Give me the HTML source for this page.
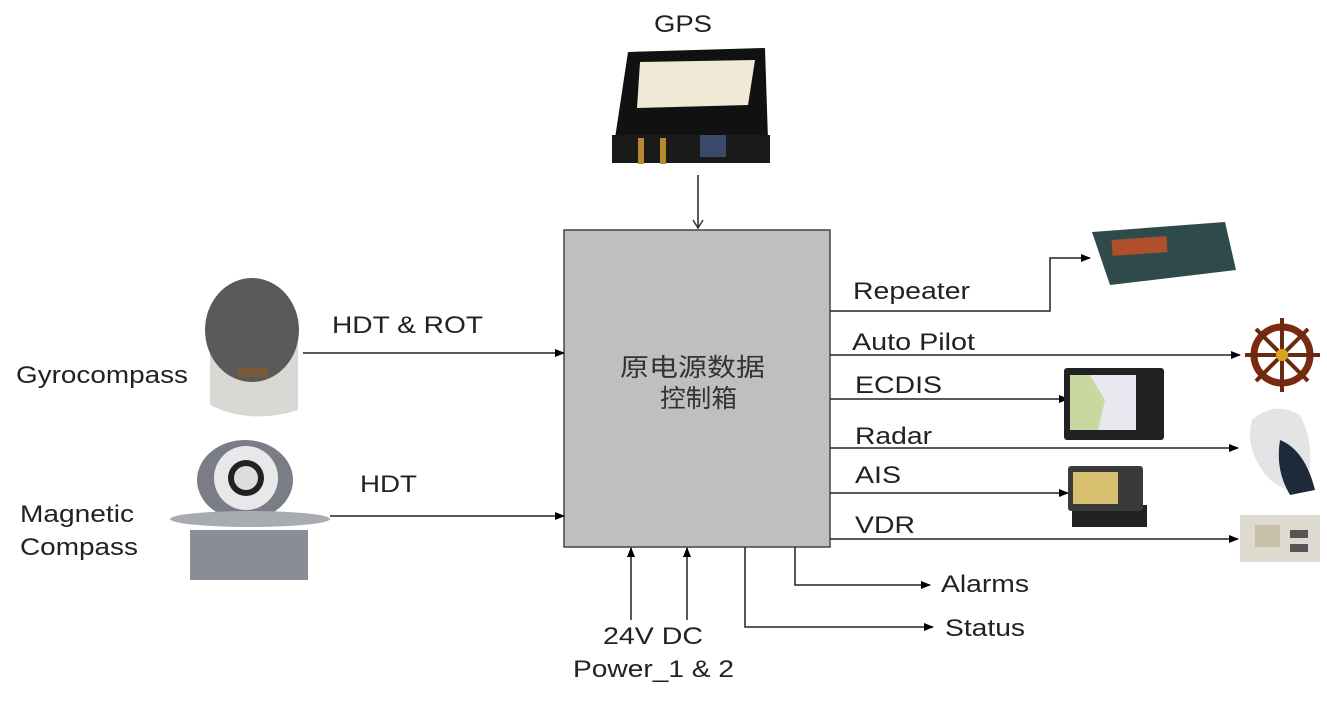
<!DOCTYPE html>
<html><head><meta charset="utf-8"><style>
body{margin:0;background:#fff;width:1327px;height:709px;overflow:hidden}
</style></head><body>
<svg width="1327" height="709" viewBox="0 0 1327 709" xmlns="http://www.w3.org/2000/svg" font-family="Liberation Sans, Noto Sans CJK SC, sans-serif">
<defs><marker id="a" markerWidth="10" markerHeight="8" refX="9" refY="4" orient="auto" markerUnits="userSpaceOnUse"><path d="M0,0 L10,4 L0,8z" fill="#000"/></marker>
<marker id="o" markerWidth="12" markerHeight="12" refX="6" refY="11" orient="0" markerUnits="userSpaceOnUse"><path d="M1,3 L6,11 L11,3" fill="none" stroke="#333" stroke-width="1.5"/></marker></defs>
<g font-size="24" fill="#222" lengthAdjust="spacingAndGlyphs">
<text x="654" y="32" textLength="58" lengthAdjust="spacingAndGlyphs">GPS</text>
<text x="332" y="333" textLength="151" lengthAdjust="spacingAndGlyphs">HDT &amp; ROT</text>
<text x="16" y="383" textLength="172" lengthAdjust="spacingAndGlyphs">Gyrocompass</text>
<text x="360" y="492" textLength="57" lengthAdjust="spacingAndGlyphs">HDT</text>
<text x="20" y="522" textLength="114" lengthAdjust="spacingAndGlyphs">Magnetic</text>
<text x="20" y="555" textLength="118" lengthAdjust="spacingAndGlyphs">Compass</text>
<text x="853" y="299" textLength="117" lengthAdjust="spacingAndGlyphs">Repeater</text>
<text x="852" y="350" textLength="123" lengthAdjust="spacingAndGlyphs">Auto Pilot</text>
<text x="855" y="393" textLength="87" lengthAdjust="spacingAndGlyphs">ECDIS</text>
<text x="855" y="444" textLength="77" lengthAdjust="spacingAndGlyphs">Radar</text>
<text x="855" y="483" textLength="46" lengthAdjust="spacingAndGlyphs">AIS</text>
<text x="855" y="533" textLength="60" lengthAdjust="spacingAndGlyphs">VDR</text>
<text x="941" y="592" textLength="88" lengthAdjust="spacingAndGlyphs">Alarms</text>
<text x="945" y="636" textLength="80" lengthAdjust="spacingAndGlyphs">Status</text>
<text x="603" y="644" textLength="100" lengthAdjust="spacingAndGlyphs">24V DC</text>
<text x="573" y="677" textLength="161" lengthAdjust="spacingAndGlyphs">Power_1 &amp; 2</text>
</g>
<rect x="564" y="230" width="266" height="317" fill="#bfbfbf" stroke="#444" stroke-width="1.5"/>
<text x="620" y="376" font-size="25" fill="#333" textLength="145" lengthAdjust="spacingAndGlyphs">原电源数据</text>
<text x="660" y="407" font-size="25" fill="#333" textLength="77" lengthAdjust="spacingAndGlyphs">控制箱</text>
<g stroke="#222" stroke-width="1.5" fill="none">
<line x1="698" y1="175" x2="698" y2="228" marker-end="url(#o)"/>
<line x1="303" y1="353" x2="564" y2="353" marker-end="url(#a)"/>
<line x1="330" y1="516" x2="564" y2="516" marker-end="url(#a)"/>
<polyline points="830,311 1050,311 1050,258 1090,258" marker-end="url(#a)"/>
<line x1="830" y1="355" x2="1240" y2="355" marker-end="url(#a)"/>
<line x1="830" y1="399" x2="1068" y2="399" marker-end="url(#a)"/>
<line x1="830" y1="448" x2="1238" y2="448" marker-end="url(#a)"/>
<line x1="830" y1="493" x2="1068" y2="493" marker-end="url(#a)"/>
<line x1="830" y1="539" x2="1238" y2="539" marker-end="url(#a)"/>
<line x1="631" y1="620" x2="631" y2="548" marker-end="url(#a)"/>
<line x1="687" y1="620" x2="687" y2="548" marker-end="url(#a)"/>
<polyline points="745,547 745,627 933,627" marker-end="url(#a)"/>
<polyline points="795,547 795,585 930,585" marker-end="url(#a)"/>
</g>
<!-- GPS -->
<path d="M628,52 L765,48 L768,140 L614,145 Z" fill="#111"/>
<path d="M640,62 L755,60 L748,105 L637,108 Z" fill="#efe9d6"/>
<rect x="612" y="135" width="158" height="28" fill="#1a1a1a"/>
<rect x="638" y="138" width="6" height="26" fill="#b8892c"/><rect x="660" y="138" width="6" height="26" fill="#b8892c"/>
<rect x="700" y="135" width="26" height="22" fill="#3a4a6a"/>
<!-- Gyro -->
<path d="M210,330 L210,405 Q250,425 298,410 L298,330 Z" fill="#d8d8d4"/>
<ellipse cx="252" cy="330" rx="47" ry="52" fill="#5a5a58"/>
<rect x="238" y="368" width="30" height="9" fill="#7a5a3a"/>
<!-- Magnetic compass -->
<rect x="190" y="530" width="118" height="50" fill="#8a8c96"/>
<ellipse cx="245" cy="480" rx="48" ry="40" fill="#7a7c86"/>
<circle cx="246" cy="478" r="32" fill="#e8e8ea"/><circle cx="246" cy="478" r="18" fill="#222"/><circle cx="246" cy="478" r="12" fill="#ddd"/>
<ellipse cx="250" cy="519" rx="80" ry="8" fill="#a9abb3"/>
<!-- Repeater -->
<path d="M1092,232 L1225,222 L1236,270 L1110,285 Z" fill="#2e4a4a"/>
<rect x="1112" y="238" width="55" height="16" fill="#b0502a" transform="rotate(-4 1140 246)"/>
<!-- Wheel -->
<circle cx="1282" cy="355" r="28" fill="none" stroke="#7a2a10" stroke-width="7"/>
<g stroke="#6a2a10" stroke-width="4"><line x1="1245" y1="355" x2="1320" y2="355"/><line x1="1282" y1="318" x2="1282" y2="392"/><line x1="1256" y1="329" x2="1308" y2="381"/><line x1="1308" y1="329" x2="1256" y2="381"/></g>
<circle cx="1282" cy="355" r="6" fill="#d9a520"/>
<!-- ECDIS -->
<rect x="1064" y="368" width="100" height="72" rx="3" fill="#222"/>
<rect x="1070" y="375" width="66" height="55" fill="#c8d8a0"/><path d="M1090,375 L1105,400 L1098,430 L1136,430 L1136,375Z" fill="#e8e8f0"/>
<!-- Radar -->
<path d="M1252,420 Q1275,400 1300,415 Q1318,450 1305,490 Q1280,495 1262,470 Q1245,445 1252,420Z" fill="#e4e4e6"/>
<path d="M1280,440 Q1305,450 1315,490 L1290,495 Q1275,470 1280,440Z" fill="#1e2a3a"/>
<!-- AIS -->
<rect x="1072" y="505" width="75" height="22" fill="#222"/>
<rect x="1068" y="466" width="75" height="45" rx="3" fill="#3a3a3a"/><rect x="1073" y="472" width="45" height="32" fill="#d8c070"/>
<!-- VDR -->
<rect x="1240" y="515" width="80" height="47" fill="#dedad0"/>
<rect x="1255" y="525" width="25" height="22" fill="#c9c0a8"/><rect x="1290" y="530" width="18" height="8" fill="#555"/><rect x="1290" y="544" width="18" height="8" fill="#555"/>
</svg>
</body></html>
